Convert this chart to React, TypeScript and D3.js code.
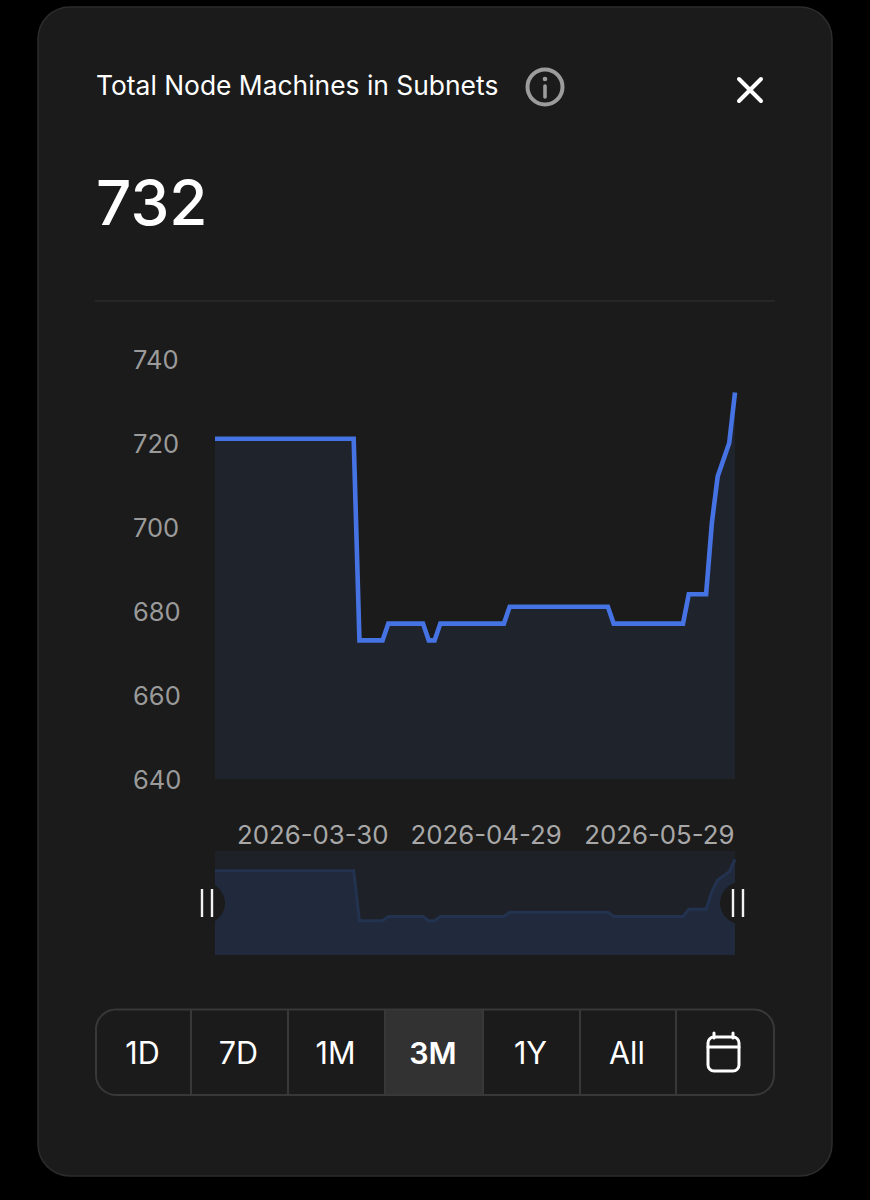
import * as d3 from "d3";
import { useEffect, useRef } from "react";

const width = 870,
  height = 1200,
  plotLeft = 215,
  plotRight = 735,
  plotTop = 359,
  plotBottom = 779,
  miniTop = 851,
  miniBottom = 955;

const font = "Inter, sans-serif";

// points where the line changes direction
const dates = [
  "2026-03-13", "2026-04-06", "2026-04-07", "2026-04-11", "2026-04-12",
  "2026-04-18", "2026-04-19", "2026-04-20", "2026-04-21", "2026-05-02",
  "2026-05-03", "2026-05-20", "2026-05-21", "2026-06-02", "2026-06-03",
  "2026-06-06", "2026-06-07", "2026-06-08", "2026-06-10", "2026-06-11",
];
const values = [
  721, 721, 673, 673, 677,
  677, 673, 673, 677, 677,
  681, 681, 677, 677, 684,
  684, 701, 712, 720, 732,
];
const yTicks = [640, 660, 680, 700, 720, 740];
const xTicks = ["2026-03-30", "2026-04-29", "2026-05-29"];
const ranges = ["1D", "7D", "1M", "3M", "1Y", "All"];
const selectedRange = "3M";
const rangeEdges = [96, 191, 288, 385, 483, 580, 676, 774];

const parse = d3.utcParse("%Y-%m-%d");
const data: [Date, number][] = dates.map((d, i) => [parse(d) as Date, values[i]]);

export default function App() {
  const ref = useRef<SVGSVGElement | null>(null);

  useEffect(() => {
    if (!ref.current) return;
    const svg = d3.select(ref.current);
    svg.selectAll("*").remove();

    const x = d3.scaleUtc(
      [parse(dates[0]) as Date, parse(dates[dates.length - 1]) as Date],
      [plotLeft, plotRight]
    );
    const y = d3.scaleLinear([640, 740], [plotBottom, plotTop]);
    const yMini = d3.scaleLinear([640, 740], [miniBottom, miniTop]);

    // card
    svg.append("rect").attr("width", width).attr("height", height).attr("fill", "#000");
    svg
      .append("rect")
      .attr("x", 38)
      .attr("y", 7)
      .attr("width", 794)
      .attr("height", 1169)
      .attr("rx", 32)
      .attr("fill", "#1b1b1b")
      .attr("stroke", "#2c2c2c")
      .attr("stroke-width", 1.5);

    // header
    svg
      .append("text")
      .attr("x", 96)
      .attr("y", 94.5)
      .attr("fill", "#fff")
      .attr("font-size", 26.4)
      .attr("font-family", font)
      .text("Total Node Machines in Subnets");
    svg
      .append("circle")
      .attr("cx", 545)
      .attr("cy", 87)
      .attr("r", 17.5)
      .attr("fill", "none")
      .attr("stroke", "#9c9c9c")
      .attr("stroke-width", 4);
    svg.append("circle").attr("cx", 545).attr("cy", 79).attr("r", 2.3).attr("fill", "#9c9c9c");
    svg
      .append("path")
      .attr("d", "M545,86V97")
      .attr("stroke", "#9c9c9c")
      .attr("stroke-width", 3.6)
      .attr("stroke-linecap", "round");
    svg
      .append("path")
      .attr("d", "M739,79L761,101M761,79L739,101")
      .attr("stroke", "#fff")
      .attr("stroke-width", 4)
      .attr("stroke-linecap", "round");
    svg
      .append("text")
      .attr("x", 96)
      .attr("y", 225)
      .attr("fill", "#fff")
      .attr("font-size", 62)
      .attr("font-weight", 500)
      .attr("font-family", font)
      .text("732");
    svg
      .append("line")
      .attr("x1", 95)
      .attr("x2", 775)
      .attr("y1", 301)
      .attr("y2", 301)
      .attr("stroke", "#333");

    // main chart
    const area = d3
      .area<[Date, number]>()
      .x((d) => x(d[0]))
      .y0(plotBottom)
      .y1((d) => y(d[1]));
    const line = d3
      .line<[Date, number]>()
      .x((d) => x(d[0]))
      .y((d) => y(d[1]));
    svg.append("path").attr("fill", "#1f232b").attr("d", area(data));
    svg
      .append("path")
      .attr("fill", "none")
      .attr("stroke", "#4673e4")
      .attr("stroke-width", 4.6)
      .attr("stroke-linejoin", "miter")
      .attr("d", line(data));

    // axes, y labels are left aligned in the original
    svg
      .append("g")
      .attr("transform", `translate(${plotLeft},1)`)
      .call(d3.axisLeft(y).tickValues(yTicks).tickSize(0))
      .call((g) => g.select(".domain").remove())
      .call((g) =>
        g
          .selectAll("text")
          .attr("x", -82)
          .attr("text-anchor", "start")
          .attr("fill", "#9a9a9a")
          .attr("font-size", 25.5)
          .attr("font-family", font)
      );
    svg
      .append("g")
      .attr("transform", `translate(-1,${plotBottom})`)
      .call(
        d3
          .axisBottom(x)
          .tickValues(xTicks.map((d) => parse(d) as Date))
          .tickFormat((d) => d3.utcFormat("%Y-%m-%d")(d as Date))
          .tickSize(0)
          .tickPadding(47)
      )
      .call((g) => g.select(".domain").remove())
      .call((g) =>
        g
          .selectAll("text")
          .attr("fill", "#a8a8a8")
          .attr("font-size", 25.8)
          .attr("font-family", font)
      );

    // overview strip
    svg
      .append("rect")
      .attr("x", plotLeft)
      .attr("y", miniTop)
      .attr("width", plotRight - plotLeft)
      .attr("height", miniBottom - miniTop)
      .attr("fill", "#1e2128");
    const miniArea = d3
      .area<[Date, number]>()
      .x((d) => x(d[0]))
      .y0(miniBottom)
      .y1((d) => yMini(d[1]));
    const miniLine = d3
      .line<[Date, number]>()
      .x((d) => x(d[0]))
      .y((d) => yMini(d[1]));
    svg.append("path").attr("fill", "#202a3c").attr("d", miniArea(data));
    svg
      .append("path")
      .attr("fill", "none")
      .attr("stroke", "#22324f")
      .attr("stroke-width", 3)
      .attr("d", miniLine(data));

    // brush handles
    [
      [204, 202, 212],
      [741, 733, 743],
    ].forEach(([cx, b1, b2]) => {
      svg.append("circle").attr("cx", cx).attr("cy", 903).attr("r", 21).attr("fill", "#1b1b1b");
      [b1, b2].forEach((b) =>
        svg
          .append("line")
          .attr("x1", b)
          .attr("x2", b)
          .attr("y1", 889)
          .attr("y2", 917)
          .attr("stroke", "#f2f2f2")
          .attr("stroke-width", 2.4)
      );
    });

    // range selector
    const selIndex = ranges.indexOf(selectedRange);
    svg
      .append("rect")
      .attr("x", rangeEdges[selIndex])
      .attr("y", 1010)
      .attr("width", rangeEdges[selIndex + 1] - rangeEdges[selIndex])
      .attr("height", 85)
      .attr("fill", "#323232");
    svg
      .append("rect")
      .attr("x", 96)
      .attr("y", 1009.5)
      .attr("width", 678)
      .attr("height", 85.5)
      .attr("rx", 20)
      .attr("fill", "none")
      .attr("stroke", "#383838")
      .attr("stroke-width", 2);
    rangeEdges.slice(1, -1).forEach((e) =>
      svg
        .append("line")
        .attr("x1", e)
        .attr("x2", e)
        .attr("y1", 1010)
        .attr("y2", 1095)
        .attr("stroke", "#383838")
        .attr("stroke-width", 2)
    );
    ranges.forEach((r, i) =>
      svg
        .append("text")
        .attr("x", (rangeEdges[i] + rangeEdges[i + 1]) / 2 - 1)
        .attr("y", 1064)
        .attr("text-anchor", "middle")
        .attr("fill", "#fff")
        .attr("font-size", 30.5)
        .attr("font-weight", r === selectedRange ? 600 : 400)
        .attr("font-family", font)
        .text(r)
    );

    // calendar icon
    svg
      .append("rect")
      .attr("x", 708)
      .attr("y", 1037)
      .attr("width", 31)
      .attr("height", 34)
      .attr("rx", 6)
      .attr("fill", "none")
      .attr("stroke", "#fff")
      .attr("stroke-width", 3);
    svg
      .append("path")
      .attr("d", "M708,1047H739M714,1033V1038M733,1033V1038")
      .attr("stroke", "#fff")
      .attr("stroke-width", 3)
      .attr("stroke-linecap", "round");
  }, []);

  return (
    <svg
      ref={ref}
      width={width}
      height={height}
      viewBox={`0 0 ${width} ${height}`}
      style={{ position: "absolute", left: 0, top: 0, display: "block" }}
    />
  );
}
